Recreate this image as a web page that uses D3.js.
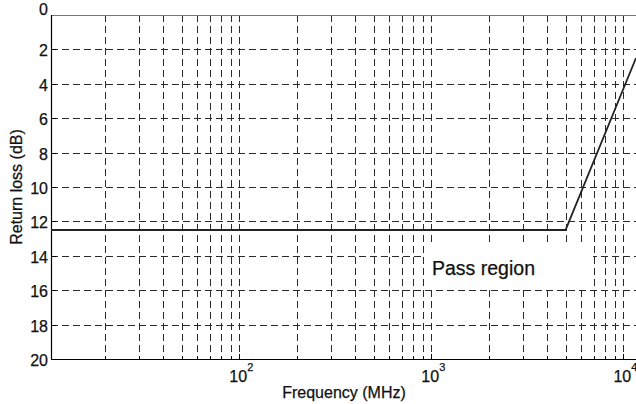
<!DOCTYPE html>
<html>
<head>
<meta charset="utf-8">
<script src="https://cdn.jsdelivr.net/npm/d3@7"></script>
<style>
  html, body { margin: 0; padding: 0; background: #fff; }
  svg { display: block; font-family: "Liberation Sans", Arial, sans-serif; }
</style>
</head>
<body>
<svg id="chart" width="636" height="404"></svg>
<script>
// Return-loss mask: flat in the pass band, rising above the corner frequency
const freqMHz = [10.45, 5000, 11640];
const returnLossDb = [12.5, 12.5, 2.5];

// Axis extents and labelled ticks
const xDomain = [10.45, 11640];
const yDomain = [0, 20];
const yTicks = [0, 2, 4, 6, 8, 10, 12, 14, 16, 18, 20];
const xLabelTicks = [100, 1000, 10000];
const xLabelExponents = ["2", "3", "4"];

const annotation = "Pass region";

const W = 636, H = 404;
const margin = { left: 51, top: 15, right: 0, bottom: 45 };
const svg = d3.select("#chart");

const x = d3.scaleLog().domain(xDomain).range([margin.left, W - margin.right]);
const y = d3.scaleLinear().domain(yDomain).range([margin.top, H - margin.bottom]);

const x0 = margin.left, x1 = W - margin.right;
const y0 = margin.top, y1 = H - margin.bottom;

// Every decade subdivision inside the domain gets a dashed grid line
const xGridTicks = x.ticks().filter(v => v > xDomain[0] && v < xDomain[1]);
const yGridTicks = yTicks.filter(v => v > yDomain[0] && v < yDomain[1]);

const grid = svg.append("g")
  .attr("stroke", "#2a2a2a")
  .attr("stroke-width", 1)
  .attr("stroke-dasharray", "7,4")
  .attr("fill", "none");

grid.selectAll("line.vx").data(xGridTicks).join("line")
  .attr("class", "vx")
  .attr("x1", d => Math.round(x(d)) + 0.5).attr("x2", d => Math.round(x(d)) + 0.5)
  .attr("y1", y0).attr("y2", y1);

grid.selectAll("line.hy").data(yGridTicks).join("line")
  .attr("class", "hy")
  .attr("x1", x0).attr("x2", x1)
  .attr("y1", d => Math.round(y(d)) + 0.5).attr("y2", d => Math.round(y(d)) + 0.5);

// Inward tick marks
const ticks = svg.append("g").attr("stroke", "#000").attr("stroke-width", 1);
ticks.selectAll("line.ty").data(yTicks).join("line")
  .attr("class", "ty")
  .attr("x1", x0).attr("x2", x0 + 5)
  .attr("y1", d => Math.round(y(d)) + 0.5).attr("y2", d => Math.round(y(d)) + 0.5);
ticks.selectAll("line.tx").data(xGridTicks).join("line")
  .attr("class", "tx")
  .attr("x1", d => Math.round(x(d)) + 0.5).attr("x2", d => Math.round(x(d)) + 0.5)
  .attr("y1", y1).attr("y2", d => y1 - (xLabelTicks.includes(d) ? 5 : 3));

// Label background for the annotation
const noteX = 432, noteBaseline = 275;
svg.append("rect")
  .attr("x", noteX - 7).attr("y", 246)
  .attr("width", 168).attr("height", 42)
  .attr("fill", "#fff");

// Axes frame: top edge lighter, left and bottom solid
svg.append("line")
  .attr("x1", x0).attr("x2", x1).attr("y1", y0 + 0.5).attr("y2", y0 + 0.5)
  .attr("stroke", "#777").attr("stroke-width", 1);
svg.append("line")
  .attr("x1", x0 + 0.5).attr("x2", x0 + 0.5).attr("y1", y0).attr("y2", y1 + 0.5)
  .attr("stroke", "#000").attr("stroke-width", 1.2);
svg.append("line")
  .attr("x1", x0).attr("x2", x1).attr("y1", y1 + 0.5).attr("y2", y1 + 0.5)
  .attr("stroke", "#000").attr("stroke-width", 1.2);

// Mask curve
const line = d3.line().x((d, i) => x(d)).y((d, i) => y(returnLossDb[i]));
svg.append("path")
  .datum(freqMHz)
  .attr("d", line)
  .attr("fill", "none")
  .attr("stroke", "#222")
  .attr("stroke-width", 1.8);

// Shared text styling: slightly heavy dark glyphs
function textStyle(sel, size) {
  sel.attr("font-size", size)
    .attr("fill", "#111")
    .attr("stroke", "#111")
    .attr("stroke-width", 0.25);
}

// Y tick labels
svg.append("g").selectAll("text").data(yTicks).join("text")
  .attr("x", x0 - 3)
  .attr("y", d => d === 0 ? y(d) : y(d) + 7)
  .attr("text-anchor", "end")
  .call(textStyle, 16)
  .text(d => d);

// X tick labels as powers of ten
const xl = svg.append("g").selectAll("text").data(xLabelTicks).join("text")
  .attr("x", d => x(d) + 2)
  .attr("y", 382)
  .attr("text-anchor", "middle")
  .call(textStyle, 16);
xl.append("tspan").text("10");
xl.append("tspan")
  .attr("font-size", 11)
  .attr("dy", -11)
  .text((d, i) => xLabelExponents[i]);

// Axis titles
svg.append("text")
  .attr("x", 344).attr("y", 398)
  .attr("text-anchor", "middle")
  .call(textStyle, 16)
  .text("Frequency (MHz)");

svg.append("text")
  .attr("transform", "translate(22,187) rotate(-90)")
  .attr("text-anchor", "middle")
  .call(textStyle, 16)
  .text("Return loss (dB)");

svg.append("text")
  .attr("x", noteX).attr("y", noteBaseline)
  .call(textStyle, 19.5)
  .text(annotation);
</script>
</body>
</html>
